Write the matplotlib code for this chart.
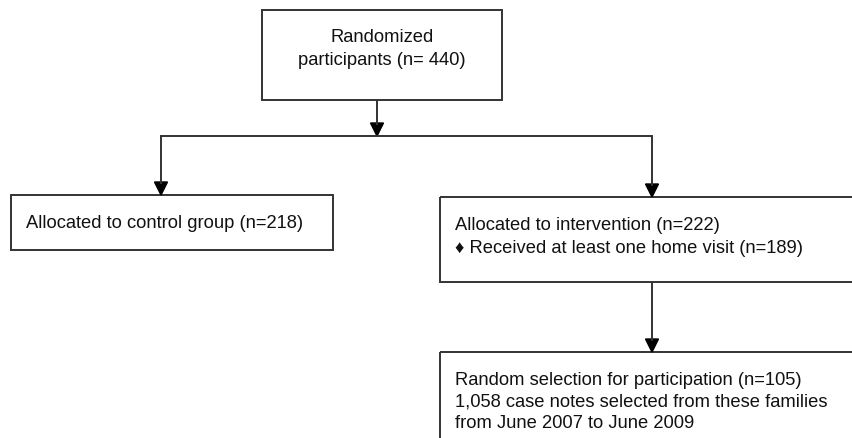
import matplotlib.pyplot as plt
from matplotlib.patches import Rectangle, Polygon

plt.rcParams['font.family'] = ['Liberation Sans', 'DejaVu Sans']

# flowchart content
box_texts = [
    "Randomized\nparticipants (n= 440)",
    "Allocated to control group (n=218)",
    "Allocated to intervention (n=222)\n\u2666 Received at least one home visit (n=189)",
    "Random selection for participation (n=105)\n1,058 case notes selected from these families\nfrom June 2007 to June 2009",
]
# boxes in pixel coords: x0, y0, x1, y1
boxes = [
    (262, 11, 502, 101),
    (11, 196, 333, 251),
    (440, 198, 870, 283),
    (440, 353, 870, 460),
]

fig = plt.figure(figsize=(8.52, 4.39), dpi=100)
ax = fig.add_axes([0, 0, 1, 1])
ax.set_xlim(0, 852)
ax.set_ylim(439, 0)
ax.axis('off')

lc = '#333333'
lw = 1.4

for (x0, y0, x1, y1) in boxes:
    ax.add_patch(Rectangle((x0, y0), x1 - x0, y1 - y0, fill=False,
                           edgecolor=lc, linewidth=lw))

fs = 13.2
tc = '#111111'
ax.text(382, 49, box_texts[0], ha='center', va='center', fontsize=fs,
        linespacing=1.39, color=tc)
ax.text(26, 224, box_texts[1], ha='left', va='center', fontsize=fs, color=tc)
ax.text(455, 237, box_texts[2], ha='left', va='center', fontsize=fs,
        linespacing=1.52, color=tc)
ax.text(455, 402, box_texts[3], ha='left', va='center', fontsize=fs,
        linespacing=1.36, color=tc)


def arrow(x, y0, y1):
    ax.plot([x, x], [y0, y1 - 11], color=lc, lw=lw, solid_capstyle='butt')
    ax.add_patch(Polygon([(x - 6.5, y1 - 13), (x + 6.5, y1 - 13), (x, y1)],
                         closed=True, color='black'))


# connectors
arrow(377, 101, 137)
ax.plot([161, 652], [137, 137], color=lc, lw=lw)
arrow(161, 137, 196)
arrow(652, 137, 198)
arrow(652, 283, 353)

fig.savefig('out.png', dpi=100)
